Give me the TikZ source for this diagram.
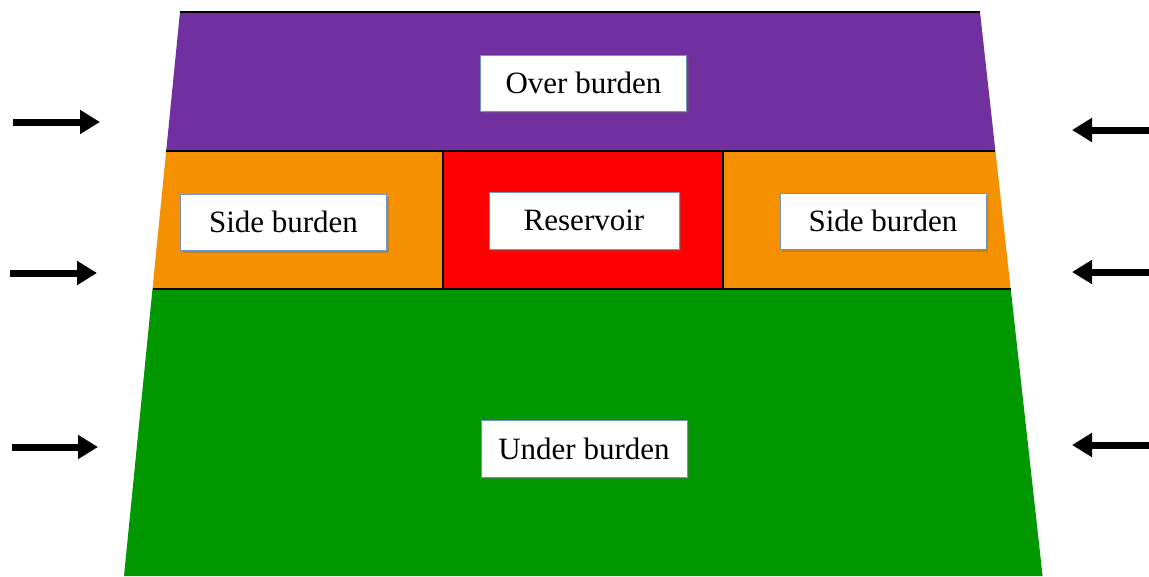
\documentclass[tikz,border=0pt]{standalone}
\usepackage{fontspec}
\setmainfont{Liberation Serif}
\usetikzlibrary{arrows.meta,shadows}
\definecolor{overc}{HTML}{7030A0}
\definecolor{sidec}{HTML}{F59100}
\definecolor{resc}{HTML}{FF0000}
\definecolor{underc}{HTML}{009700}
\definecolor{boxedge}{HTML}{7094C8}
\tikzset{
  edgeline/.style={line width=2pt, black},
  label box/.style={draw=boxedge, line width=0.9pt, fill=white,
    minimum width=206pt, minimum height=56pt, inner sep=0pt,
    font=\fontsize{31}{34}\selectfont,
    drop shadow={shadow xshift=2pt, shadow yshift=-2.5pt, opacity=0.35, fill=black!60}},
  push/.style={line width=7pt, black, -{Triangle[length=20pt,width=23pt]}}
}
\begin{document}
\begin{tikzpicture}[x=1pt,y=-1pt]
\useasboundingbox (0,0) rectangle (1149,576);
% corner points of the layered section
\coordinate (tl) at (180,12);   \coordinate (tr) at (980,12);
\coordinate (ml) at (166.2,151); \coordinate (mr) at (995.4,151);
\coordinate (ll) at (152.5,289); \coordinate (lr) at (1010.7,289);
\coordinate (bl) at (124,576);  \coordinate (br) at (1042.6,576);
\coordinate (d1t) at (443,151); \coordinate (d1b) at (443,289);
\coordinate (d2t) at (723,151); \coordinate (d2b) at (723,289);
% layers
\fill[overc] (tl) -- (tr) -- (mr) -- (ml) -- cycle;
\fill[sidec] (ml) -- (d1t) -- (d1b) -- (ll) -- cycle;
\fill[resc] (d1t) -- (d2t) -- (d2b) -- (d1b) -- cycle;
\fill[sidec] (d2t) -- (mr) -- (lr) -- (d2b) -- cycle;
\fill[underc] (ll) -- (lr) -- (br) -- (bl) -- cycle;
% boundaries
\draw[edgeline] (tl) -- (tr);
\draw[edgeline] (ml) -- (mr);
\draw[edgeline] (ll) -- (lr);
\draw[edgeline] (d1t) -- (d1b);
\draw[edgeline] (d2t) -- (d2b);
% labels
\node[label box] (over) at (583.5,83) {Over burden};
\node[label box] (sideL) at (283.5,222) {Side burden};
\node[label box, minimum width=190pt, minimum height=57pt] (res) at (584,220.5) {Reservoir};
\node[label box] (sideR) at (883,221) {Side burden};
\node[label box, minimum height=57pt] (under) at (584,448.5) {Under burden};
% lateral stress arrows
\coordinate (la1) at (13,122);  \coordinate (la1e) at (100,122);
\coordinate (la2) at (10,273);  \coordinate (la2e) at (97,273);
\coordinate (la3) at (12,447);  \coordinate (la3e) at (98,447);
\coordinate (ra1) at (1149,130); \coordinate (ra1e) at (1072,130);
\coordinate (ra2) at (1149,272); \coordinate (ra2e) at (1072,272);
\coordinate (ra3) at (1149,445); \coordinate (ra3e) at (1072,445);
\draw[push] (la1) -- (la1e);
\draw[push] (la2) -- (la2e);
\draw[push] (la3) -- (la3e);
\draw[push] (ra1) -- (ra1e);
\draw[push] (ra2) -- (ra2e);
\draw[push] (ra3) -- (ra3e);
\end{tikzpicture}
\end{document}
